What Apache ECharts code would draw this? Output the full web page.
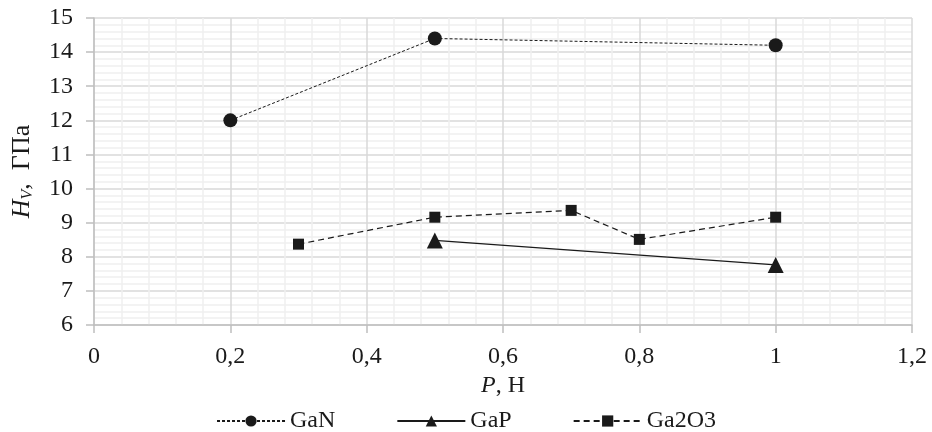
<!DOCTYPE html>
<html>
<head>
<meta charset="utf-8">
<script src="https://cdn.jsdelivr.net/npm/echarts@6/dist/echarts.min.js"></script>
<style>
  html, body { margin: 0; padding: 0; background: #fff; }
  #chart { width: 932px; height: 432px; }
</style>
</head>
<body>
<div id="chart"></div>
<script>
// load P (Н) and hardness (ГПа)
const ganLoad = [0.2, 0.5, 1.0];
const ganHv = [12.0, 14.4, 14.2];
const gapLoad = [0.5, 1.0];
const gapHv = [8.48, 7.76];
const ga2o3Load = [0.3, 0.5, 0.7, 0.8, 1.0];
const ga2o3Hv = [8.37, 9.16, 9.36, 8.51, 9.16];

const seriesNames = ['GaN', 'GaP', 'Ga2O3'];

const pairs = (xs, ys) => xs.map((x, i) => [x, ys[i]]);
const comma = v => String(Math.round(v * 10) / 10).replace('.', ',');

const serif = 'Liberation Serif';
const ink = '#1a1a1a';

const chart = echarts.init(document.getElementById('chart'));

chart.setOption({
  animation: false,
  textStyle: { fontFamily: serif },
  grid: { left: 94, right: 20, top: 18, bottom: 107 },
  legend: {
    data: seriesNames,
    bottom: -6,
    left: 'center',
    itemWidth: 68,
    itemHeight: 14,
    itemGap: 61,
    textStyle: { fontFamily: serif, fontSize: 24, color: ink }
  },
  xAxis: {
    type: 'value',
    min: 0,
    max: 1.2,
    interval: 0.2,
    name: '{i|P}{n|, Н}',
    nameLocation: 'middle',
    nameGap: 48,
    nameTextStyle: {
      rich: {
        i: { fontFamily: serif, fontSize: 24, fontStyle: 'italic', color: ink },
        n: { fontFamily: serif, fontSize: 24, color: ink }
      }
    },
    axisLine: { show: true, lineStyle: { color: '#bfbfbf', width: 1.5 } },
    axisTick: { show: true, length: 8, lineStyle: { color: '#bfbfbf', width: 1.5 } },
    axisLabel: { fontFamily: serif, fontSize: 24, color: ink, margin: 20, formatter: comma },
    splitLine: { show: true, lineStyle: { color: '#d9d9d9', width: 1.5 } },
    minorTick: { show: false, splitNumber: 5 },
    minorSplitLine: { show: true, lineStyle: { color: '#efefef', width: 1.5 } }
  },
  yAxis: {
    type: 'value',
    min: 6,
    max: 15,
    interval: 1,
    name: '{i|H}{s|V}{n|,  ГПа}',
    nameLocation: 'middle',
    nameRotate: 90,
    nameGap: 58,
    nameTextStyle: {
      rich: {
        i: { fontFamily: serif, fontSize: 26, fontStyle: 'italic', color: ink, lineHeight: 28 },
        s: { fontFamily: serif, fontSize: 16, fontStyle: 'italic', color: ink, verticalAlign: 'bottom', lineHeight: 28, padding: [9, 0, 0, 0] },
        n: { fontFamily: serif, fontSize: 26, color: ink, lineHeight: 28 }
      }
    },
    axisLine: { show: true, lineStyle: { color: '#bfbfbf', width: 1.5 } },
    axisTick: { show: true, length: 8, lineStyle: { color: '#bfbfbf', width: 1.5 } },
    axisLabel: { fontFamily: serif, fontSize: 24, color: ink, margin: 21 },
    splitLine: { show: true, lineStyle: { color: '#d9d9d9', width: 1.5 } },
    minorTick: { show: false, splitNumber: 5 },
    minorSplitLine: { show: true, lineStyle: { color: '#efefef', width: 1.5 } }
  },
  series: [
    {
      name: seriesNames[0],
      type: 'line',
      data: pairs(ganLoad, ganHv),
      symbol: 'circle',
      symbolSize: 14,
      itemStyle: { color: ink },
      lineStyle: { color: ink, width: 1, type: [3, 2] }
    },
    {
      name: seriesNames[1],
      type: 'line',
      data: pairs(gapLoad, gapHv),
      symbol: 'triangle',
      symbolSize: 16,
      itemStyle: { color: ink },
      lineStyle: { color: ink, width: 1.2, type: 'solid' }
    },
    {
      name: seriesNames[2],
      type: 'line',
      data: pairs(ga2o3Load, ga2o3Hv),
      symbol: 'rect',
      symbolSize: 11,
      itemStyle: { color: ink },
      lineStyle: { color: ink, width: 1.2, type: [6, 4] }
    }
  ]
});
</script>
</body>
</html>
